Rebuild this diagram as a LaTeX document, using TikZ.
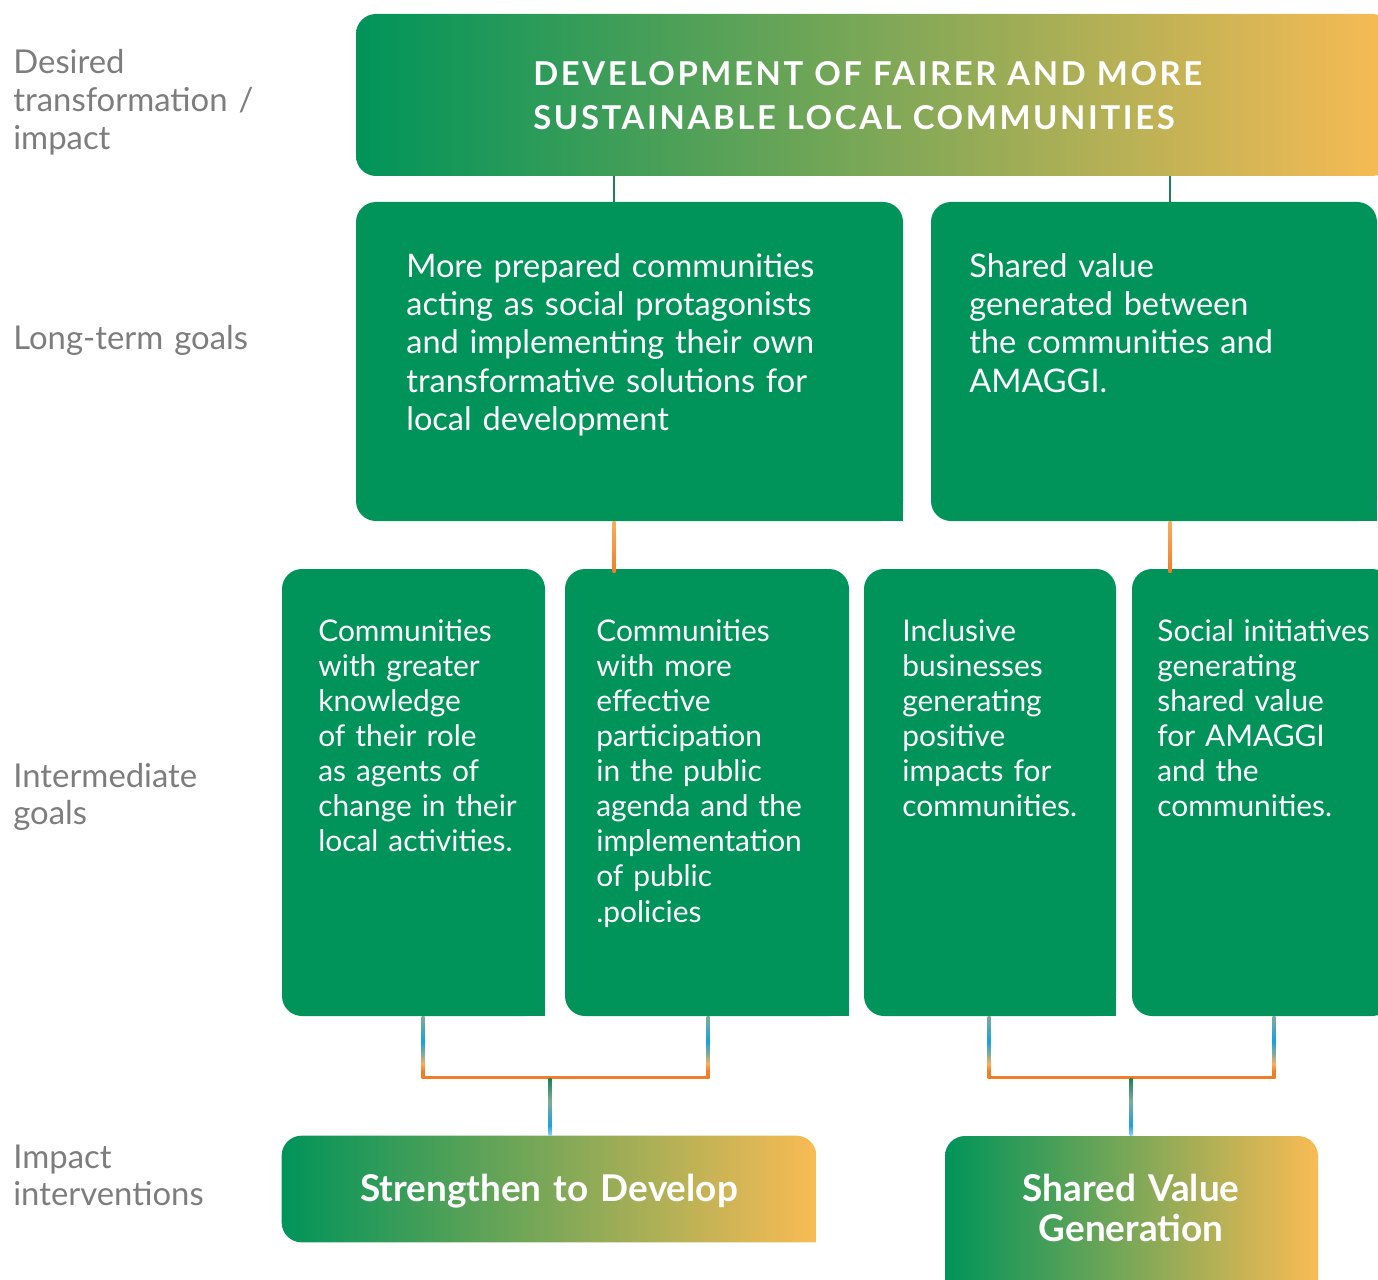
\documentclass[tikz,border=0pt]{standalone}
\usepackage{fontspec}
\setmainfont{Lato}
\newfontfamily\capsfont[LetterSpace=8]{Lato}
\usetikzlibrary{calc, fit, positioning}

\definecolor{agreen}{RGB}{0,148,90}
\definecolor{aorange}{RGB}{249,187,84}
\definecolor{aline}{RGB}{240,125,40}
\definecolor{alight}{RGB}{250,172,95}
\definecolor{ablue}{RGB}{25,160,225}
\definecolor{astem}{RGB}{30,128,88}
\definecolor{agray}{RGB}{125,125,125}
\colorlet{amist}{agreen!45!gray!70!white}
\colorlet{apale}{ablue!45!white}

% stems between the goal boxes and the interventions
\pgfdeclareverticalshading{upstem}{100bp}{color(0bp)=(aline); color(25bp)=(aline); color(31bp)=(aline); color(37bp)=(alight); color(45bp)=(amist); color(55bp)=(ablue); color(75bp)=(amist); color(100bp)=(amist)}
\pgfdeclareverticalshading{downstem}{100bp}{color(0bp)=(apale); color(25bp)=(apale); color(34bp)=(ablue); color(55bp)=(amist); color(75bp)=(astem); color(100bp)=(astem)}

\tikzset{
  box/.style={inner sep=0pt, rounded corners=0.4cm, fill=agreen},
  gradbox/.style={inner sep=0pt, rounded corners=0.4cm, left color=agreen, right color=aorange},
  side/.style={anchor=base west, inner sep=0pt, text=agray, align=left, text width=5.2cm, font=\fontsize{18.7}{21.6}\selectfont},
  longgoal/.style={anchor=base west, inner sep=0pt, text=white, align=left, text width=9.5cm, font=\fontsize{18.5}{21.9}\selectfont},
  midgoal/.style={anchor=base west, inner sep=0pt, text=white, align=left, text width=5cm, font=\fontsize{17}{20}\selectfont},
  action/.style={anchor=base, inner sep=0pt, text=white, align=center, text width=9cm, font=\fontsize{21}{23.3}\selectfont\bfseries},
}

\begin{document}
\begin{tikzpicture}[x=0.02cm, y=-0.02cm]
\useasboundingbox (0,0) rectangle (1378,1280);

% row labels
\node[side] (desired) at (13,74) {Desired\\transformation /\\impact};
\node[side] (longterm) at (13,349) {Long-term goals};
\node[side] (inter) at (13,787) {Intermediate\\goals};
\node[side] (impact) at (13,1168) {Impact\\interventions};

% boxes
\node[gradbox, fit={(356,14) (1392,176)}] (top) {};
\node[box, fit={(356,202) (903,521)}] (long1) {};
\node[box, fit={(931,202) (1377,521)}] (long2) {};
\node[box, fit={(282,569) (545,1016)}] (mid1) {};
\node[box, fit={(565,569) (849,1016)}] (mid2) {};
\node[box, fit={(864,569) (1116,1016)}] (mid3) {};
\node[box, fit={(1132,569) (1392,1016)}] (mid4) {};
\node[inner sep=0pt, fit={(282,1136) (816,1242)}] (strengthen) {};
\node[gradbox, fit={(945,1136) (1318,1300)}] (shared) {};

% square lower right corners
\foreach \b in {long1, long2, mid1, mid2, mid3}
  \fill[agreen] (\b.south east) rectangle ++(-20,-20);
\shade[left color=agreen, right color=aorange] (strengthen.south) [rounded corners=0.4cm] -- (strengthen.south west)
  -- (strengthen.north west) -- (strengthen.north east) -- (strengthen.east) [sharp corners] -- (strengthen.south east) -- cycle;

% texts
\node[anchor=base west, inner sep=0pt, text=white, align=left, text width=20cm, font=\fontsize{18.7}{25}\selectfont\capsfont\bfseries] (title) at (533,86)
  {DEVELOPMENT OF FAIRER AND MORE\\SUSTAINABLE LOCAL COMMUNITIES};
\node[longgoal] (long1txt) at (406,277) {More prepared communities\\acting as social protagonists\\and implementing their own\\transformative solutions for\\local development};
\node[longgoal] (long2txt) at (969,277) {Shared value\\generated between\\the communities and\\AMAGGI.};
\node[midgoal] (mid1txt) at (318,641) {Communities\\with greater\\knowledge\\of their role\\as agents of\\change in their\\local activities.};
\node[midgoal] (mid2txt) at (596,641) {Communities\\with more\\effective\\participation\\in the public\\agenda and the\\implementation\\of public\\.policies};
\node[midgoal] (mid3txt) at (902,641) {Inclusive\\businesses\\generating\\positive\\impacts for\\communities.};
\node[midgoal] (mid4txt) at (1157,641) {Social initiatives\\generating\\shared value\\for AMAGGI\\and the\\communities.};
\node[action] (strengthentxt) at (549,1201) {Strengthen to Develop};
\node[action] (sharedtxt) at (1131,1201) {Shared Value\\Generation};

% connectors
\coordinate (jl) at (550,1077);
\coordinate (jr) at (1131,1077);
\draw[astem, line width=1.6pt] (top.south -| 614,0) -- (long1.north -| 614,0);
\draw[astem, line width=1.6pt] (top.south -| 1170,0) -- (long2.north -| 1170,0);
\shade[top color=alight, bottom color=aline] ($(long1.south -| 614,0)+(-1.5,0)$) rectangle ($(mid2.north -| 614,0)+(1.5,4)$);
\shade[top color=alight, bottom color=aline] ($(long2.south -| 1170,0)+(-1.5,0)$) rectangle ($(mid4.north -| 1170,0)+(1.5,4)$);

\foreach \b/\x/\j in {mid1/423/jl, mid2/708/jl, mid3/989/jr, mid4/1274/jr}
  \shade[shading=upstem] ($(\b.south -| \x,0)+(-1.5,0)$) rectangle ($(\j -| \x,0)+(1.5,1.5)$);
\draw[aline, line width=1.7pt] (jl -| 423,0) -- (jl -| 708,0);
\draw[aline, line width=1.7pt] (jr -| 989,0) -- (jr -| 1274,0);

\shade[shading=downstem] ($(jl)+(-1.5,1.5)$) rectangle ($(strengthen.north -| jl)+(1.5,0)$);
\shade[shading=downstem] ($(jr)+(-1.5,1.5)$) rectangle ($(shared.north -| jr)+(1.5,0)$);
\end{tikzpicture}
\end{document}
